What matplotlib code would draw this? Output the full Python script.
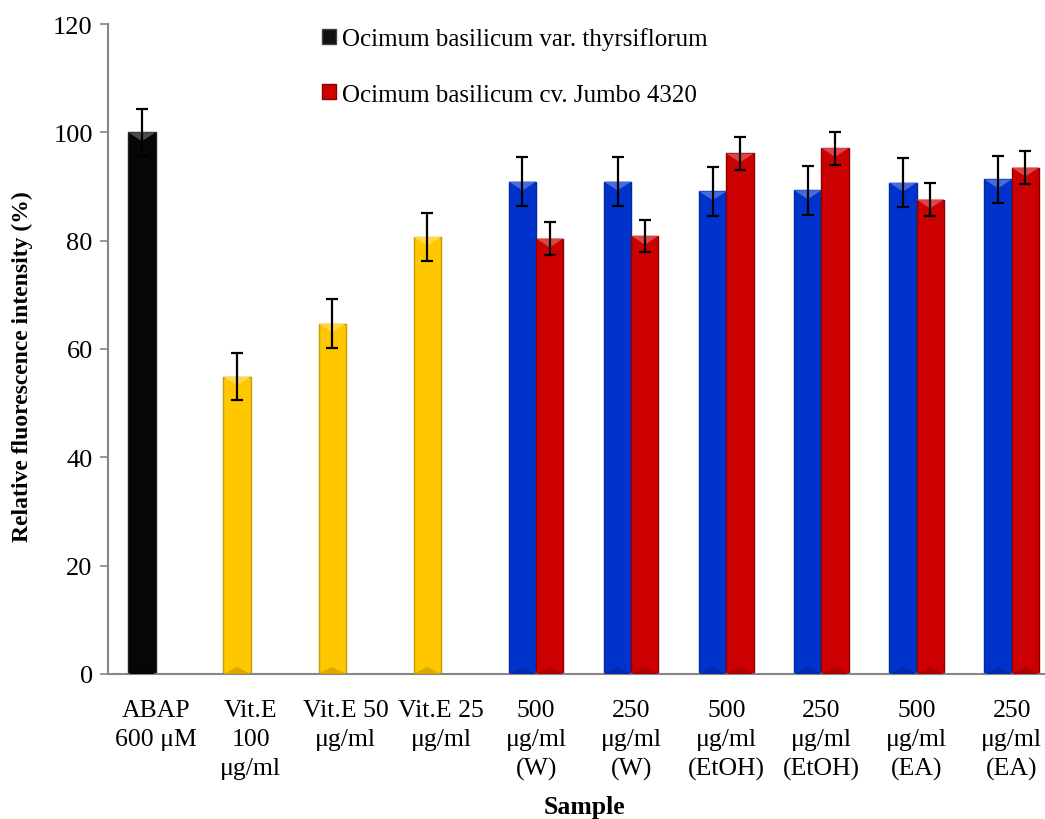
import matplotlib
matplotlib.use("Agg")
import matplotlib.pyplot as plt
from matplotlib.patches import Patch, Polygon
import matplotlib.colors as mcolors
import numpy as np

plt.rcParams['font.family'] = ['Liberation Serif', 'DejaVu Serif']

categories = ["ABAP\n600 μM", "Vit.E\n100\nμg/ml", "Vit.E 50\nμg/ml", "Vit.E 25\nμg/ml",
              "500\nμg/ml\n(W)", "250\nμg/ml\n(W)", "500\nμg/ml\n(EtOH)", "250\nμg/ml\n(EtOH)",
              "500\nμg/ml\n(EA)", "250\nμg/ml\n(EA)"]

# Controls (single bars)
control_idx = [0, 1, 2, 3]
control_vals = [100.0, 54.9, 64.7, 80.7]
control_err = [4.3, 4.4, 4.5, 4.4]
control_colors = ["#060606", "#FFC700", "#FFC700", "#FFC700"]

# Extract groups
extract_idx = [4, 5, 6, 7, 8, 9]
thyrs_vals = [90.9, 90.9, 89.1, 89.3, 90.7, 91.3]
thyrs_err = [4.5, 4.5, 4.5, 4.5, 4.5, 4.4]
jumbo_vals = [80.4, 80.9, 96.1, 97.1, 87.6, 93.5]
jumbo_err = [3.0, 3.0, 3.1, 3.05, 3.1, 3.0]

legend_labels = ["Ocimum basilicum var. thyrsiflorum", "Ocimum basilicum cv. Jumbo 4320"]

W, H = 1045, 820
fig = plt.figure(figsize=(W / 100, H / 100), dpi=100)
ax = fig.add_axes([108 / W, (H - 675) / H, (W - 108) / W, 650 / H])

bw = 0.287
blue = "#0033CC"
red = "#CC0000"
err_kw = dict(ecolor="black", elinewidth=1.6, capsize=4, capthick=1.6, zorder=5)

ax.set_ylim(0, 120)
ax.set_xlim(-0.5, 9.35)

x_c = np.array(control_idx, dtype=float)
b1 = ax.bar(x_c - bw / 2, control_vals, width=bw, color=control_colors,
            edgecolor=["#202020", "#C89A00", "#C89A00", "#C89A00"], linewidth=1.0,
            yerr=control_err, error_kw=err_kw, zorder=2)

x_e = np.array(extract_idx, dtype=float)
b2 = ax.bar(x_e - bw / 2, thyrs_vals, width=bw, color=blue, edgecolor="#002A99",
            linewidth=1.0, yerr=thyrs_err, error_kw=err_kw, zorder=2)
b3 = ax.bar(x_e + bw / 2, jumbo_vals, width=bw, color=red, edgecolor="#8A0000",
            linewidth=1.0, yerr=jumbo_err, error_kw=err_kw, zorder=2)


def bevel(container):
    # light triangle at top, subtle darker one at bottom, mimicking the 3D bevel
    fig.canvas.draw()
    for p in container.patches:
        x0, y0 = p.get_x(), p.get_y()
        w, h = p.get_width(), p.get_height()
        fc = np.array(mcolors.to_rgb(p.get_facecolor()))
        light = fc + (1 - fc) * 0.28
        dark = fc * 0.85
        px = ax.transData.transform([(x0, 0), (x0 + w, 0)])
        half_px = (px[1, 0] - px[0, 0]) / 2
        inv = ax.transData.inverted()
        d = inv.transform([(0, half_px)])[0, 1] - inv.transform([(0, 0)])[0, 1]
        d = d * 0.65
        top = y0 + h
        ax.add_patch(Polygon([(x0, top), (x0 + w, top), (x0 + w / 2, top - d)],
                             closed=True, facecolor=light, edgecolor="none", zorder=3))
        ax.add_patch(Polygon([(x0, y0), (x0 + w, y0), (x0 + w / 2, y0 + d * 0.8)],
                             closed=True, facecolor=dark, edgecolor="none", zorder=3))


for c in (b1, b2, b3):
    bevel(c)

ax.set_yticks(np.arange(0, 121, 20))
ax.set_xticks(np.arange(len(categories)))
ax.set_xticklabels(categories, fontsize=18.5, linespacing=1.4)
ax.tick_params(axis='x', length=0, pad=18)
ax.tick_params(axis='y', direction='out', length=6, width=1.2, color="#868686",
               labelsize=19, pad=5)

for s in ["top", "right"]:
    ax.spines[s].set_visible(False)
for s in ["left", "bottom"]:
    ax.spines[s].set_color("#868686")
    ax.spines[s].set_linewidth(1.5)

fig.text(22 / W, 1 - 367 / H, "Relative fluorescence intensity (%)", rotation=90,
         ha="center", va="center", fontsize=17, fontweight="bold")
fig.text(584 / W, 1 - 808 / H, "Sample", ha="center", va="center",
         fontsize=18.5, fontweight="bold")

handles = [Patch(facecolor="#111111", edgecolor="#444444"),
           Patch(facecolor=red, edgecolor="#8A0000")]
leg = fig.legend(handles, legend_labels, loc="upper left",
                 bbox_to_anchor=(312 / W, 1 - 18 / H), frameon=False, fontsize=18,
                 handlelength=0.55, handleheight=0.55, handletextpad=0.25,
                 labelspacing=1.35, borderaxespad=0)

fig.savefig("out.png", dpi=100)
